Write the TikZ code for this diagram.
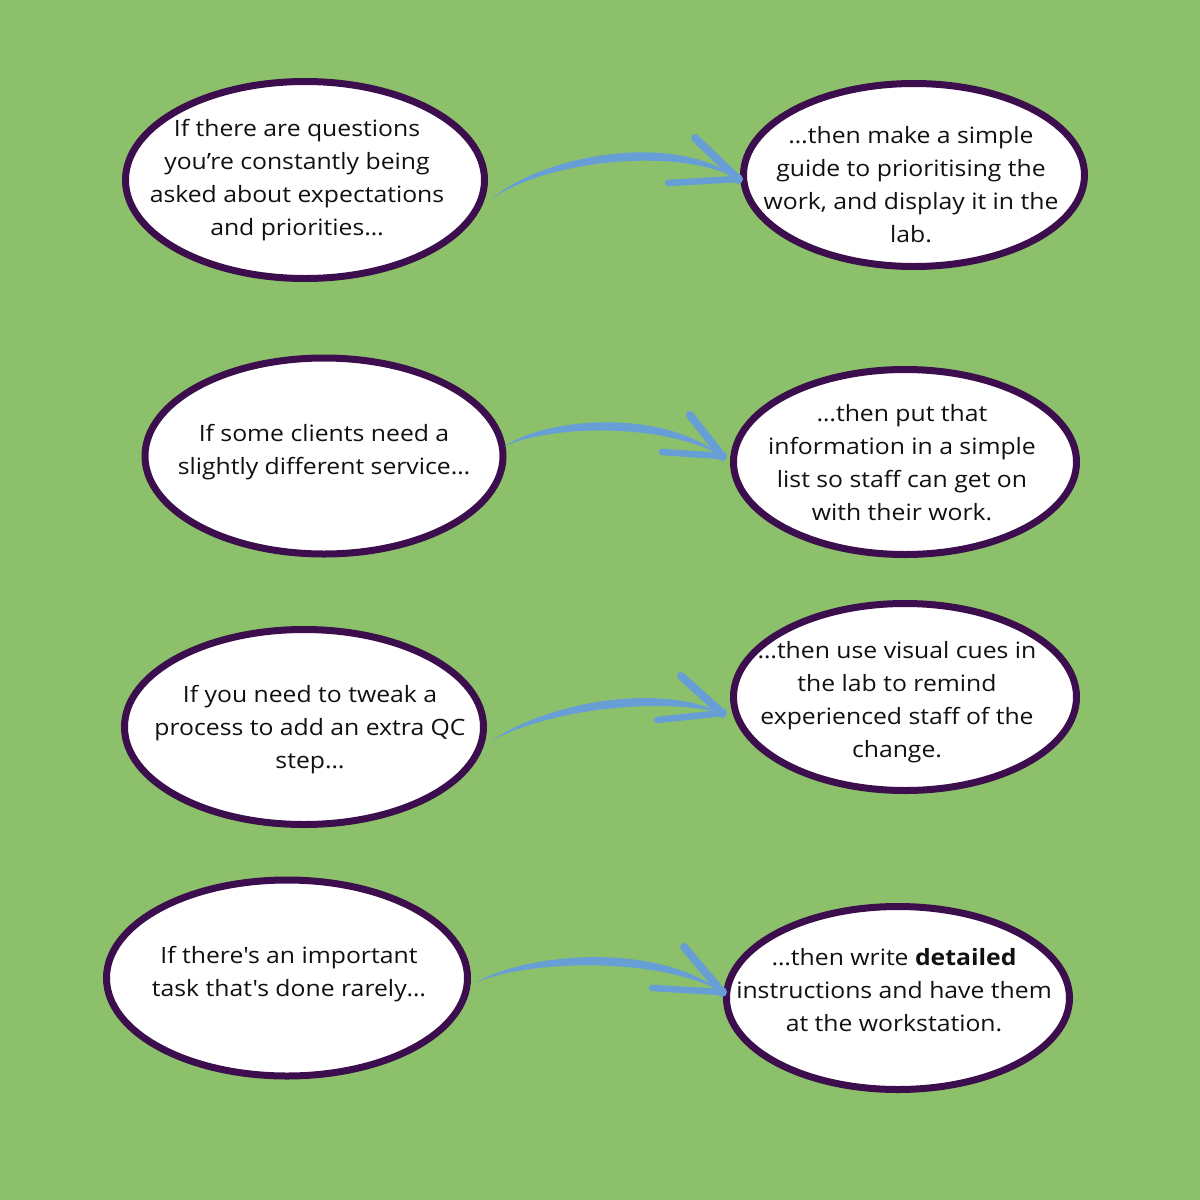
\documentclass[tikz,border=0pt]{standalone}
\usepackage{fontspec}
\setmainfont{Open Sans}[Ligatures=TeXOff, FakeStretch=1.1]
\usetikzlibrary{shapes.geometric,calc}
\definecolor{bggreen}{HTML}{8DC06A}
\definecolor{ringpurple}{HTML}{3D0E4E}
\definecolor{arrowblue}{HTML}{689ED6}
\definecolor{inkblack}{HTML}{111111}
\tikzset{
  bubble/.style={ellipse, draw=ringpurple, fill=white, line width=7pt, inner sep=0pt},
  bubbletext/.style={align=center, text=inkblack, inner sep=0pt, font=\fontsize{22.5}{33}\selectfont},
  barb/.style={draw=arrowblue, line cap=round},
}
% #1 start, #2 tip, #3 c1, #4 c2, #5 upper barb end, #6 lower barb end
\newcommand{\brushArrow}[6]{%
  \fill[arrowblue] (#1) .. controls ($(#3)+(0,-4)$) and ($(#4)+(0,-7)$) .. (#2)
     .. controls ($(#4)+(0,7)$) and ($(#3)+(0,4)$) .. (#1) -- cycle;
  \draw[barb, line width=8pt] (#5) -- (#2);
  \draw[barb, line width=6.5pt] (#6) -- (#2);
  \fill[arrowblue] (#2) circle (5);
}
\begin{document}
\begin{tikzpicture}[x=1pt,y=-1pt]
\fill[bggreen] (0,0) rectangle (1200,1200);
\useasboundingbox (0,0) rectangle (1200,1200);

% bubbles
\node[bubble, minimum width=359pt, minimum height=197pt] (L1) at (305,180) {};
\node[bubble, minimum width=341pt, minimum height=183pt] (R1) at (914,175) {};
\node[bubble, minimum width=358pt, minimum height=196pt] (L2) at (324,456) {};
\node[bubble, minimum width=343pt, minimum height=185pt] (R2) at (905,462) {};
\node[bubble, minimum width=359pt, minimum height=195pt] (L3) at (304,727) {};
\node[bubble, minimum width=343pt, minimum height=187pt] (R3) at (905,697) {};
\node[bubble, minimum width=361pt, minimum height=196pt] (L4) at (287,978) {};
\node[bubble, minimum width=343pt, minimum height=183pt] (R4) at (898,998) {};

% texts
\node[bubbletext] (L1t) at (297,180) {If there are questions\\you’re constantly being\\asked about expectations\\and priorities…};
\node[bubbletext] (R1t) at (911,185) {…then make a simple\\guide to prioritising the\\work, and display it in the\\lab.};
\node[bubbletext] (L2t) at (324,452) {If some clients need a\\slightly different service…};
\node[bubbletext] (R2t) at (902,463) {…then put that\\information in a simple\\list so staff can get on\\with their work.};
\node[bubbletext] (L3t) at (310,730) {If you need to tweak a\\process to add an extra QC\\step…};
\node[bubbletext] (R3t) at (897,702) {…then use visual cues in\\the lab to remind\\experienced staff of the\\change.};
\node[bubbletext] (L4t) at (289,974) {If there's an important\\task that's done rarely…};
\node[bubbletext] (R4t) at (894,990) {…then write \textbf{detailed}\\instructions and have them\\at the workstation.};

% arrow end points
\coordinate (s1) at ($(L1.east)+(3,19)$);
\coordinate (t1) at ($(R1.west)+(-2,4)$);
\coordinate (s2) at ($(L2.east)+(-3,-9)$);
\coordinate (t2) at ($(R2.west)+(-8,-6)$);
\coordinate (s3) at ($(L3.east)+(4,14)$);
\coordinate (t3) at ($(R3.west)+(-8,16)$);
\coordinate (s4) at ($(L4.east)+(4,5)$);
\coordinate (t4) at ($(R4.west)+(-1,-6)$);

\coordinate (a1c1) at (550,155); \coordinate (a1c2) at (680,140);
\coordinate (a1u) at (695,138);  \coordinate (a1l) at (668,183);
\coordinate (a2c1) at (545,422); \coordinate (a2c2) at (660,414);
\coordinate (a2u) at (690,415);  \coordinate (a2l) at (662,452);
\coordinate (a3c1) at (550,705); \coordinate (a3c2) at (660,690);
\coordinate (a3u) at (681,676);  \coordinate (a3l) at (657,720);
\coordinate (a4c1) at (530,955); \coordinate (a4c2) at (660,950);
\coordinate (a4u) at (684,947);  \coordinate (a4l) at (652,988);

\brushArrow{s1}{t1}{a1c1}{a1c2}{a1u}{a1l}
\brushArrow{s2}{t2}{a2c1}{a2c2}{a2u}{a2l}
\brushArrow{s3}{t3}{a3c1}{a3c2}{a3u}{a3l}
\brushArrow{s4}{t4}{a4c1}{a4c2}{a4u}{a4l}
\end{tikzpicture}
\end{document}
